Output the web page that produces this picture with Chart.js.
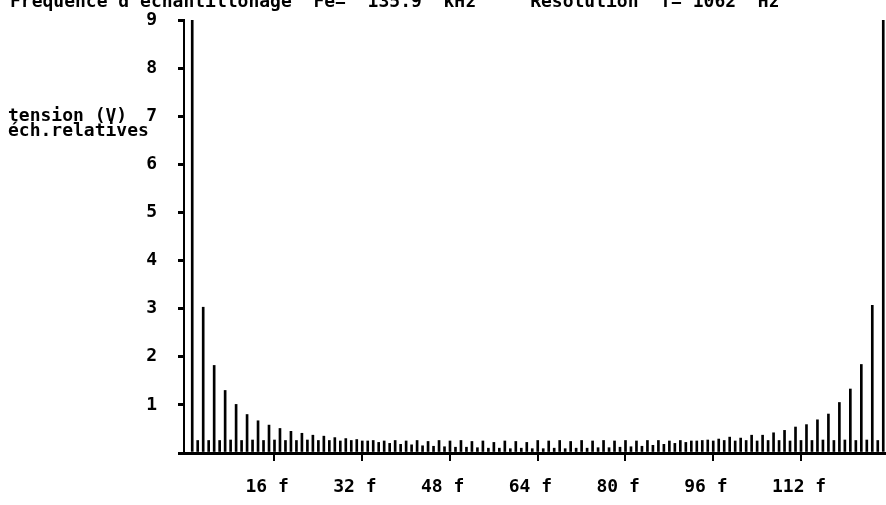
<!DOCTYPE html>
<html>
<head>
<meta charset="utf-8">
<script src="https://cdn.jsdelivr.net/npm/chart.js@4/dist/chart.umd.min.js"></script>
<style>
html, body { margin: 0; padding: 0; background: #fff; }
</style>
</head>
<body>
<canvas id="spectre" width="886" height="505"></canvas>
<script>
// raies impaires k = 1, 3, 5 ... 127
const raiesImpaires = [
    9.3, 3.03, 1.82, 1.30, 1.01, 0.80, 0.67, 0.58, 0.51, 0.45, 0.41, 0.37, 0.35, 0.32, 0.30, 0.28,
    0.25, 0.22, 0.20, 0.18, 0.17, 0.15, 0.14, 0.13, 0.12, 0.12, 0.11, 0.10, 0.10, 0.09, 0.10, 0.09,
    0.09, 0.10, 0.09, 0.10, 0.10, 0.11, 0.11, 0.12, 0.13, 0.14, 0.16, 0.18, 0.20, 0.22, 0.25, 0.27,
    0.29, 0.33, 0.31, 0.37, 0.37, 0.42, 0.47, 0.54, 0.59, 0.69, 0.81, 1.05, 1.33, 1.84, 3.07, 9.3
];
// raies paires k = 0, 2, 4 ... 126
const raiesPaires = [
    0, 0.26, 0.26, 0.26, 0.27, 0.26, 0.27, 0.26, 0.27, 0.26, 0.26, 0.27, 0.26, 0.26, 0.25, 0.26,
    0.25, 0.26, 0.25, 0.26, 0.25, 0.26, 0.24, 0.26, 0.25, 0.26, 0.24, 0.25, 0.22, 0.25, 0.24, 0.22,
    0.26, 0.25, 0.26, 0.24, 0.26, 0.25, 0.26, 0.25, 0.26, 0.25, 0.26, 0.26, 0.25, 0.26, 0.25, 0.26,
    0.25, 0.26, 0.25, 0.26, 0.25, 0.26, 0.26, 0.25, 0.26, 0.26, 0.27, 0.26, 0.27, 0.26, 0.27, 0.26
];
// graduations de l'axe des fréquences
const rangsGradues = [16, 32, 48, 64, 80, 96, 112];
const etiquettesX = ['16 f', '32 f', '48 f', '64 f', '80 f', '96 f', '112 f'];
const etiquettesY = ['', '1', '2', '3', '4', '5', '6', '7', '8', '9'];

const titre = "Fréquence d'échantillonage  Fe=  135.9  kHz     Résolution  f= 1062  Hz";
const titreY1 = 'tension (V)';
const titreY2 = 'éch.relatives';

const police = '"DejaVu Sans Mono", "Liberation Mono", monospace';

let rangs = [];
let amplitudes = [];
for (let k = 0; k < raiesPaires.length + raiesImpaires.length; k++) {
    rangs.push(String(k));
    amplitudes.push(k % 2 ? raiesImpaires[(k - 1) / 2] : raiesPaires[k / 2]);
}

const textes = {
    id: 'textes',
    afterDraw(chart) {
        const ctx = chart.ctx;
        const y7 = chart.scales.y.getPixelForValue(7);
        ctx.save();
        ctx.fillStyle = '#000';
        ctx.font = 'bold 18px ' + police;
        ctx.textAlign = 'left';
        ctx.textBaseline = 'alphabetic';
        ctx.fillText(titre, 10, 7);
        ctx.textBaseline = 'middle';
        ctx.fillText(titreY1, 8, y7);
        ctx.fillText(titreY2, 8, y7 + 15);
        ctx.restore();
    }
};

var ctx = document.getElementById('spectre').getContext('2d');
var chart = new Chart(ctx, {
    type: 'bar',
    data: {
        labels: rangs,
        datasets: [{
            data: amplitudes,
            backgroundColor: '#000',
            barThickness: 2
        }]
    },
    options: {
        responsive: false,
        animation: false,
        devicePixelRatio: 1,
        layout: { padding: { top: 20, left: 0, right: 0, bottom: 0 } },
        plugins: {
            legend: { display: false },
            tooltip: { enabled: false }
        },
        scales: {
            x: {
                offset: true,
                border: { color: '#000', width: 3 },
                grid: {
                    offset: false,
                    drawOnChartArea: false,
                    tickLength: 8,
                    lineWidth: 2,
                    color: c => rangsGradues.includes(c.index) ? '#000' : 'rgba(0,0,0,0)'
                },
                ticks: {
                    autoSkip: false,
                    maxRotation: 0,
                    minRotation: 0,
                    align: 'start',
                    labelOffset: -29,
                    padding: 16,
                    color: '#000',
                    font: { family: police, size: 18, weight: 'bold' },
                    callback: (v, i) => {
                        const j = rangsGradues.indexOf(i);
                        return j >= 0 ? etiquettesX[j] : '';
                    }
                },
                afterFit: s => {
                    s.height = 52;
                    s.paddingLeft = 0;
                    s.paddingRight = 0;
                }
            },
            y: {
                min: 0,
                max: 9,
                border: { color: '#000', width: 2 },
                grid: {
                    drawOnChartArea: false,
                    tickLength: 6,
                    lineWidth: 3,
                    color: '#000'
                },
                ticks: {
                    stepSize: 1,
                    padding: 21,
                    color: '#000',
                    font: { family: police, size: 18, weight: 'bold' },
                    callback: v => etiquettesY[v]
                },
                afterFit: s => {
                    s.width = 184;
                    s.paddingTop = 0;
                    s.paddingBottom = 0;
                }
            }
        }
    },
    plugins: [textes]
});
</script>
</body>
</html>
